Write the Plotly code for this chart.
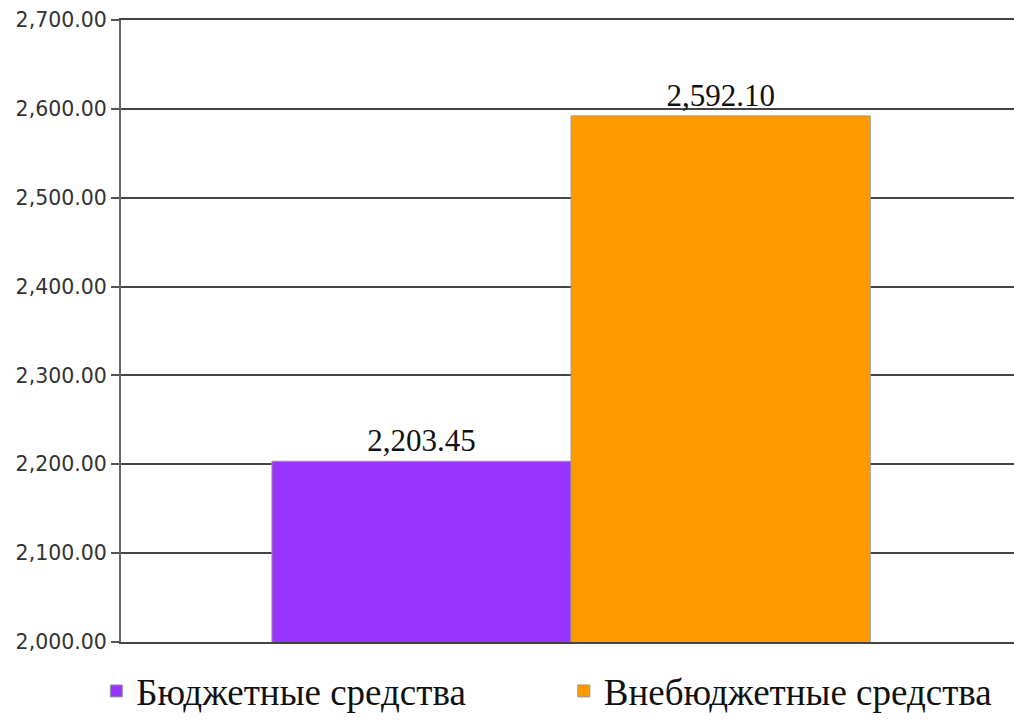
import plotly.graph_objects as go

series_names = ["Бюджетные средства", "Внебюджетные средства"]
values = [2203.45, 2592.10]
colors = ["#9933FF", "#FF9900"]
tick_vals = [2000, 2100, 2200, 2300, 2400, 2500, 2600, 2700]
tick_text = ["2,000.00", "2,100.00", "2,200.00", "2,300.00", "2,400.00", "2,500.00", "2,600.00", "2,700.00"]
category = [""]
legend_ids = ["legend", "legend2"]
legend_x = [0.095, 0.556]

fig = go.Figure()
for name, v, c, lg in zip(series_names, values, colors, legend_ids):
    fig.add_trace(go.Bar(
        x=category, y=[v], name=name, legend=lg,
        marker=dict(color=c, line=dict(color="#999999", width=1)),
        text=[f"{v:,.2f}"], textposition="outside", cliponaxis=False,
        textfont=dict(family="Liberation Serif", size=31, color="#111111"),
    ))

legend_common = dict(orientation="h", xref="container", yref="container",
                      y=0.049, xanchor="left", yanchor="middle",
                      bgcolor="rgba(0,0,0,0)",
                      font=dict(family="Liberation Serif", size=37, color="#111111"))

fig.update_layout(
    width=1014, height=727,
    margin=dict(l=121, r=0, t=20, b=85, autoexpand=False),
    plot_bgcolor="white", paper_bgcolor="white",
    barmode="group", bargap=0.33, bargroupgap=0,
    showlegend=True,
    legend=dict(x=legend_x[0], **legend_common),
    legend2=dict(x=legend_x[1], **legend_common),
    xaxis=dict(range=[-0.504, 0.496], showticklabels=False, showgrid=False,
               zeroline=False, showline=True, mirror=True,
               linecolor="#444444", linewidth=2),
    yaxis=dict(range=[2000, 2700], tickvals=tick_vals, ticktext=tick_text,
               showgrid=True, gridcolor="#444444", gridwidth=2,
               showline=True, linecolor="#666666", linewidth=2,
               ticks="outside", ticklen=8, tickcolor="#555555", tickwidth=2,
               tickfont=dict(family="DejaVu Sans", size=20.5, color="#333333"),
               zeroline=False, automargin=False),
)
fig.write_html("out.html", config={"displayModeBar": False},
               post_script="document.body.style.margin='0';document.body.style.overflow='hidden';")
